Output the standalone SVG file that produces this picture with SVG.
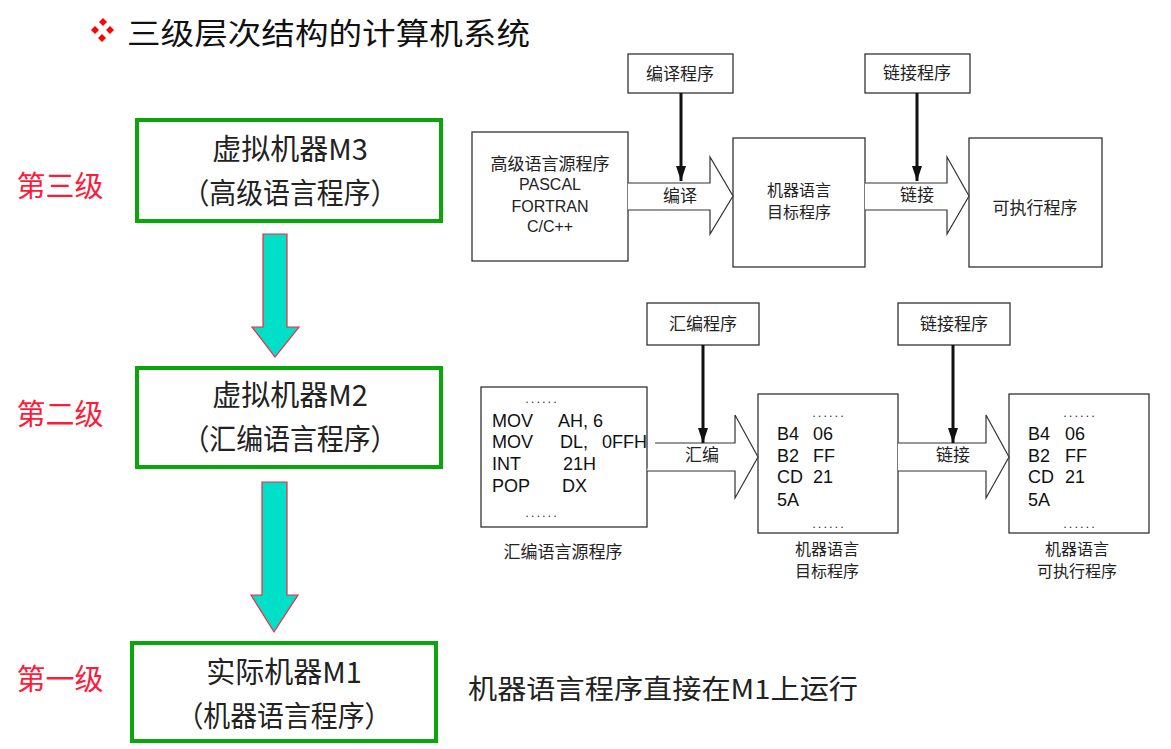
<svg xmlns="http://www.w3.org/2000/svg" width="1171" height="749" viewBox="0 0 1171 749">
<style>
.cjk{font-family:"Noto Sans CJK SC","Noto Sans",sans-serif;}
.title{font-size:30px;fill:#111;}
.lvl{font-size:29px;fill:#ff1a3a;}
.big{font-size:29px;fill:#222;}
.gbox{fill:#fff;stroke:#0aa70a;stroke-width:4;}
.dn{fill:#00e0c8;stroke:#ff2040;stroke-width:1.2;}
.box{fill:#fff;stroke:#333;stroke-width:1.3;}
.lbl{font-size:17px;fill:#222;}
.lbl2{font-size:16px;fill:#222;}
.code{font-family:"Liberation Sans",Arial,sans-serif;font-size:18px;fill:#111;}
.lat{font-family:"Liberation Sans",Arial,sans-serif;font-size:16px;fill:#222;}
.hollow{fill:#fff;stroke:#333;stroke-width:1.2;}
.vline{stroke:#111;stroke-width:3;fill:none;}
.dots{font-family:"Liberation Sans",Arial,sans-serif;font-size:13px;fill:#333;letter-spacing:2px;}
</style>
<defs>
<marker id="ah" markerWidth="15" markerHeight="10" refX="15" refY="5" orient="auto" markerUnits="userSpaceOnUse" viewBox="0 0 15 10">
<path d="M0,0 L15,5 L0,10 Z" fill="#111"/>
</marker>
</defs>
<rect width="1171" height="749" fill="#fff"/>

<g id="title">
<g fill="#ff0000">
<path d="M103,18 L107,22 L103,26 L99,22 Z"/>
<path d="M95,26 L99,30 L95,34 L91,30 Z"/>
<path d="M110,26 L114,30 L110,34 L106,30 Z"/>
<path d="M102,34 L106,38 L102,42 L98,38 Z"/>
</g>
<text x="127" y="44" class="cjk title" textLength="403" lengthAdjust="spacingAndGlyphs">三级层次结构的计算机系统</text>
</g>

<g id="levels">
<text x="60" y="197" text-anchor="middle" class="cjk lvl">第三级</text>
<text x="60" y="425" text-anchor="middle" class="cjk lvl">第二级</text>
<text x="60" y="690" text-anchor="middle" class="cjk lvl">第一级</text>
</g>

<g id="m3">
<rect x="137" y="120" width="304" height="101" class="gbox"/>
<text x="290" y="160" text-anchor="middle" class="cjk big">虚拟机器M3</text>
<text x="290" y="204" text-anchor="middle" class="cjk big" textLength="215" lengthAdjust="spacingAndGlyphs">（高级语言程序）</text>
</g>
<g id="m2">
<rect x="137" y="368" width="304" height="99" class="gbox"/>
<text x="290" y="406" text-anchor="middle" class="cjk big">虚拟机器M2</text>
<text x="290" y="450" text-anchor="middle" class="cjk big" textLength="215" lengthAdjust="spacingAndGlyphs">（汇编语言程序）</text>
</g>
<g id="m1">
<rect x="132" y="643" width="304" height="98" class="gbox"/>
<text x="284" y="683" text-anchor="middle" class="cjk big">实际机器M1</text>
<text x="284" y="727" text-anchor="middle" class="cjk big" textLength="215" lengthAdjust="spacingAndGlyphs">（机器语言程序）</text>
</g>

<g id="level-arrows">
<path d="M263,234 L287,234 L287,327 L299,327 L275,357 L252,327 L263,327 Z" class="dn"/>
<path d="M262,482 L287,482 L287,595 L298,595 L274,632 L251,595 L262,595 Z" class="dn"/>
</g>

<g id="m1-note">
<text x="468" y="699" class="cjk" font-size="27" fill="#222" textLength="390" lengthAdjust="spacingAndGlyphs">机器语言程序直接在M1上运行</text>
</g>

<g id="hl-src">
<rect x="472" y="132" width="156" height="129" class="box"/>
<text x="550" y="170" text-anchor="middle" class="cjk lbl">高级语言源程序</text>
<text x="550" y="190" text-anchor="middle" class="lat">PASCAL</text>
<text x="550" y="212" text-anchor="middle" class="lat">FORTRAN</text>
<text x="550" y="232" text-anchor="middle" class="lat" font-size="15">C/C++</text>
</g>
<g id="compiler">
<rect x="628" y="54" width="105" height="39" class="box"/>
<text x="680" y="80" text-anchor="middle" class="cjk lbl">编译程序</text>
</g>
<g id="obj-top">
<rect x="733" y="138" width="132" height="129" class="box"/>
<text x="799" y="196" text-anchor="middle" class="cjk lbl2">机器语言</text>
<text x="799" y="218" text-anchor="middle" class="cjk lbl2">目标程序</text>
</g>
<g id="linker-top">
<rect x="865" y="54" width="105" height="39" class="box"/>
<text x="917" y="79" text-anchor="middle" class="cjk lbl">链接程序</text>
</g>
<g id="exe-top">
<rect x="969" y="138" width="133" height="129" class="box"/>
<text x="1035" y="214" text-anchor="middle" class="cjk lbl">可执行程序</text>
</g>

<g id="asm-src">
<rect x="481" y="387" width="166" height="140" class="box"/>
<text x="542" y="403" text-anchor="middle" class="dots">......</text>
<text x="492" y="427" class="code">MOV</text><text x="558" y="427" class="code">AH,</text><text x="593" y="427" class="code">6</text>
<text x="492" y="448" class="code">MOV</text><text x="560" y="448" class="code">DL,</text><text x="602" y="448" class="code">0FFH</text>
<text x="492" y="470" class="code">INT</text><text x="563" y="470" class="code">21H</text>
<text x="492" y="492" class="code">POP</text><text x="562" y="492" class="code">DX</text>
<text x="542" y="517" text-anchor="middle" class="dots">......</text>
<text x="563" y="558" text-anchor="middle" class="cjk lbl">汇编语言源程序</text>
</g>
<g id="assembler">
<rect x="647" y="303" width="112" height="42" class="box"/>
<text x="703" y="330" text-anchor="middle" class="cjk lbl">汇编程序</text>
</g>
<g id="obj-bottom">
<rect x="758" y="394" width="140" height="139" class="box"/>
<text x="829" y="417" text-anchor="middle" class="dots">......</text>
<text x="777" y="440" class="code">B4</text><text x="813" y="440" class="code">06</text>
<text x="777" y="462" class="code">B2</text><text x="813" y="462" class="code">FF</text>
<text x="777" y="483" class="code">CD</text><text x="813" y="483" class="code">21</text>
<text x="777" y="506" class="code">5A</text>
<text x="829" y="528" text-anchor="middle" class="dots">......</text>
<text x="827" y="555" text-anchor="middle" class="cjk lbl2">机器语言</text>
<text x="827" y="577" text-anchor="middle" class="cjk lbl2">目标程序</text>
</g>
<g id="linker-bottom">
<rect x="898" y="303" width="112" height="42" class="box"/>
<text x="954" y="330" text-anchor="middle" class="cjk lbl">链接程序</text>
</g>
<g id="exe-bottom">
<rect x="1009" y="394" width="140" height="139" class="box"/>
<text x="1080" y="417" text-anchor="middle" class="dots">......</text>
<text x="1028" y="440" class="code">B4</text><text x="1065" y="440" class="code">06</text>
<text x="1028" y="462" class="code">B2</text><text x="1065" y="462" class="code">FF</text>
<text x="1028" y="483" class="code">CD</text><text x="1065" y="483" class="code">21</text>
<text x="1028" y="506" class="code">5A</text>
<text x="1080" y="528" text-anchor="middle" class="dots">......</text>
<text x="1077" y="555" text-anchor="middle" class="cjk lbl2">机器语言</text>
<text x="1077" y="577" text-anchor="middle" class="cjk lbl2">可执行程序</text>
</g>

<g id="connectors">
<path d="M628,183 L710,183 L710,157 L733,196 L710,234 L710,210 L628,210" class="hollow"/>
<path d="M865,183 L947,183 L947,157 L969,196 L947,234 L947,210 L865,210" class="hollow"/>
<text x="680" y="202" text-anchor="middle" class="cjk lbl">编译</text>
<text x="917" y="201" text-anchor="middle" class="cjk lbl">链接</text>
<line x1="681" y1="93" x2="681" y2="181" class="vline" marker-end="url(#ah)"/>
<line x1="917" y1="93" x2="917" y2="181" class="vline" marker-end="url(#ah)"/>
<path d="M655,443 L735,443 L735,415 L758,457 L735,498 L735,471 L647,471" class="hollow"/>
<path d="M898,443 L986,443 L986,415 L1009,457 L986,498 L986,471 L898,471" class="hollow"/>
<text x="702" y="461" text-anchor="middle" class="cjk lbl">汇编</text>
<text x="953" y="461" text-anchor="middle" class="cjk lbl">链接</text>
<line x1="703" y1="345" x2="703" y2="443" class="vline" marker-end="url(#ah)"/>
<line x1="953" y1="345" x2="953" y2="443" class="vline" marker-end="url(#ah)"/>
</g>
</svg>
